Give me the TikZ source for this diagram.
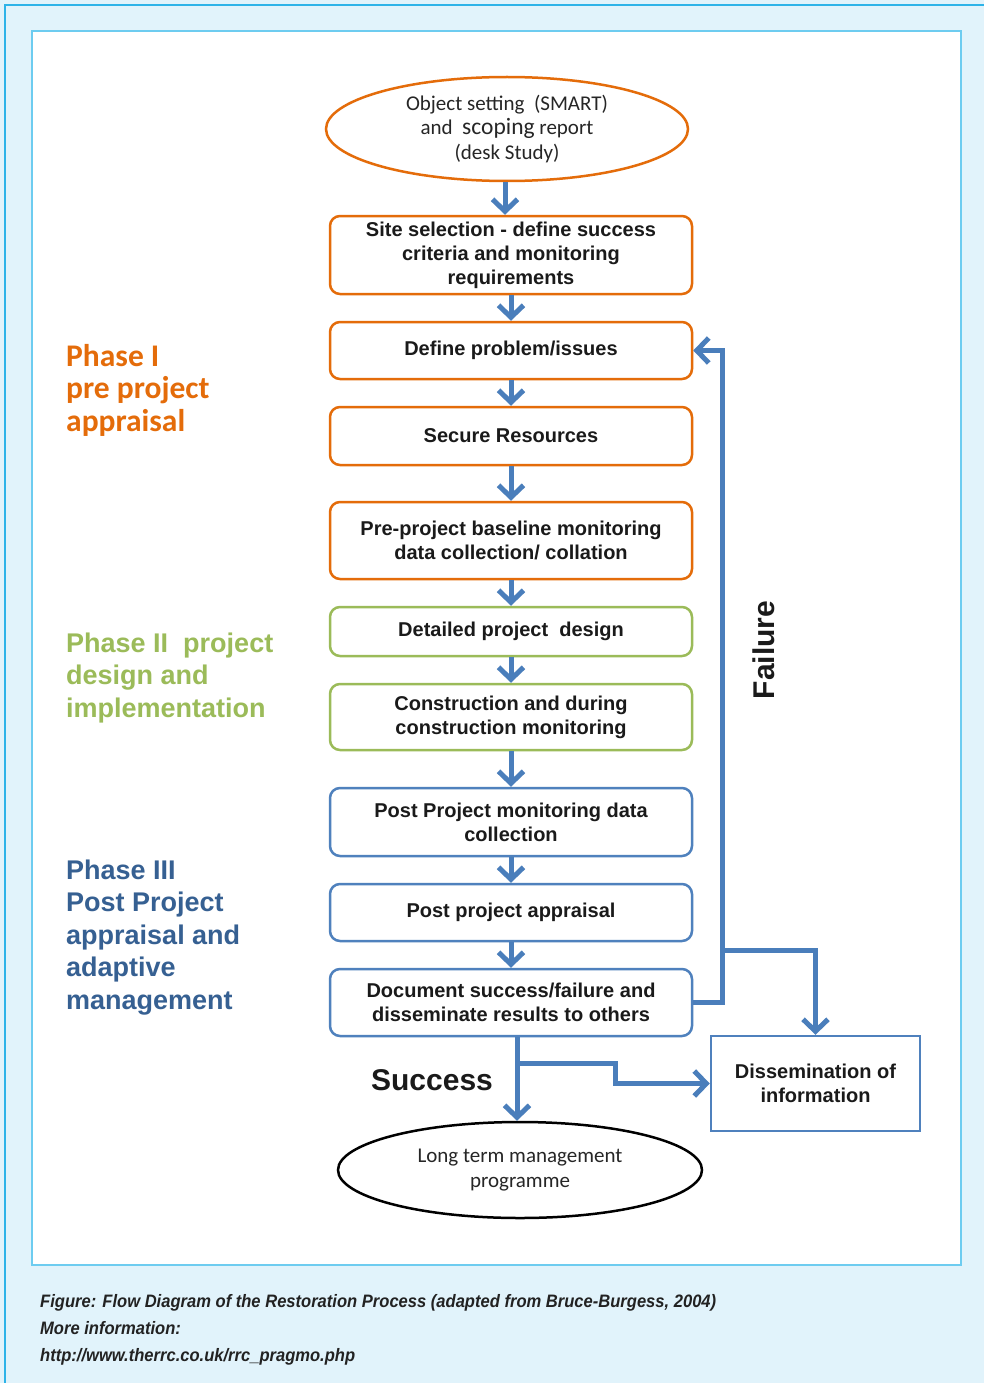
\documentclass[tikz,border=0pt]{standalone}
\usepackage{fontspec}
\setmainfont{Liberation Sans}
\newfontfamily\carlito{Carlito}
\usetikzlibrary{arrows.meta,shapes.geometric}
\definecolor{bgblue}{HTML}{E1F3FB}
\definecolor{edgecyan}{HTML}{2DB3E8}
\definecolor{inneredge}{HTML}{6DCCF0}
\definecolor{orng}{HTML}{E46C0A}
\definecolor{grn}{HTML}{9BBB59}
\definecolor{bluebox}{HTML}{4F81BD}
\definecolor{arrowblue}{HTML}{4A7EBB}
\definecolor{phthree}{HTML}{366092}
\definecolor{txt}{HTML}{1A1A1A}
\definecolor{elltxt}{HTML}{262626}
\definecolor{captxt}{HTML}{222222}
\tikzset{
  box/.style={rectangle, rounded corners=10pt, minimum width=362pt, line width=2.5pt,
    align=center, font=\fontsize{20}{24}\selectfont\bfseries, text=txt, inner sep=0pt},
  obox/.style={box, draw=orng},
  gbox/.style={box, draw=grn},
  bbox/.style={box, draw=bluebox},
  ell/.style={ellipse, inner sep=0pt, line width=2.5pt, align=center,
    font=\carlito\fontsize{21}{24.5}\selectfont, text=elltxt},
  flow/.style={draw=arrowblue, line width=5pt, -{Straight Barb[length=12pt,width=25pt]}},
  phase/.style={anchor=base west, align=left, inner sep=0pt},
  captext/.style={anchor=base west, inner sep=0pt, text=captxt,
    font=\fontsize{18}{20}\selectfont\bfseries\itshape}
}
\begin{document}
\begin{tikzpicture}[x=1pt,y=-1pt]
\useasboundingbox (0,0) rectangle (984,1383);
\fill[bgblue] (0,0) rectangle (984,1383);
\draw[edgecyan,line width=2pt] (5,1383) -- (5,5) -- (984,5);
\draw[inneredge,line width=1.5pt,fill=white] (32,31) rectangle (961,1265);

% nodes
\node[ell, draw=orng, minimum width=362pt, minimum height=104pt] (e1) at (507,129)
  {Object setting\ \ (SMART)\\and\ \ {\fontsize{23.5}{24.5}\selectfont scoping} report\\(desk Study)};
\node[obox, minimum height=78pt] (b1) at (511,255)
  {Site selection - define success\\criteria and monitoring\\requirements};
\node[obox, minimum height=57pt] (b2) at (511,350.5) {Define problem/issues};
\node[obox, minimum height=58pt] (b3) at (511,436) {Secure Resources};
\node[obox, minimum height=77pt] (b4) at (511,540.5)
  {Pre-project baseline monitoring\\data collection/ collation};
\node[gbox, minimum height=49pt] (b5) at (511,631.5) {Detailed project\ \ design};
\node[gbox, minimum height=66pt] (b6) at (511,717)
  {Construction and during\\construction monitoring};
\node[bbox, minimum height=68pt] (b7) at (511,822)
  {Post Project monitoring data\\collection};
\node[bbox, minimum height=57pt] (b8) at (511,912.5) {Post project appraisal};
\node[bbox, minimum height=67pt] (b9) at (511,1002.5)
  {Document success/failure and\\disseminate results to others};
\node[rectangle, draw=bluebox, line width=2.5pt, minimum width=209pt, minimum height=95pt,
  align=center, inner sep=0pt, font=\fontsize{20}{24.5}\selectfont\bfseries, text=txt]
  (diss) at (815.5,1083.5) {Dissemination of\\information};
\node[ell, draw=black, minimum width=364pt, minimum height=96pt] (lt) at (520,1170)
  {Long term management\\programme};

% labels
\node[font=\fontsize{30}{32}\selectfont\bfseries, text=txt] (succ) at (432,1080) {Success};
\node[font=\fontsize{30}{32}\selectfont\bfseries, text=txt, rotate=90] (fail) at (764,650) {Failure};
\node[phase, text=orng, font=\carlito\fontsize{31.5}{32.5}\selectfont\bfseries] (p1) at (66,431)
  {Phase I\\pre project\\appraisal};
\node[phase, text=grn, font=\fontsize{27}{32.5}\selectfont\bfseries] (p2) at (66,717)
  {Phase II\ \ project\\design and\\implementation};
\node[phase, text=phthree, font=\fontsize{27}{32.5}\selectfont\bfseries] (p3) at (66,1009)
  {Phase III\\Post Project\\appraisal and\\adaptive\\management};

% caption
\node[captext] (c1) at (40,1307) {\scalebox{0.92}[1]{Figure: Flow Diagram of the Restoration Process (adapted from Bruce-Burgess, 2004)}};
\node[captext] (c2) at (40,1334) {\scalebox{0.92}[1]{More information:}};
\node[captext] (c3) at (40,1361) {\scalebox{0.92}[1]{http://www.therrc.co.uk/rrc\_pragmo.php}};

% connectors
\draw[flow] ([xshift=-2pt]e1.south) -- ([xshift=-6pt]b1.north);
\draw[flow] (b1.south) -- (b2.north);
\draw[flow] (b2.south) -- (b3.north);
\draw[flow] (b3.south) -- (b4.north);
\draw[flow] (b4.south) -- (b5.north);
\draw[flow] (b5.south) -- (b6.north);
\draw[flow] (b6.south) -- (b7.north);
\draw[flow] (b7.south) -- (b8.north);
\draw[flow] (b8.south) -- (b9.north);
% failure loop
\coordinate (fx) at (722,1002.5);
\coordinate (fb) at (722,950);
\draw[flow] (b9.east) -- (fx) |- (b2.east);
\draw[flow] (fb) -| (diss.north);
% success
\draw[flow] ([xshift=6pt]b9.south) -- ([xshift=-3pt]lt.north);
\coordinate (s1) at (517,1063);
\coordinate (s2) at (615,1063);
\draw[flow] (s1) -- (s2) |- (diss.west);
\end{tikzpicture}
\end{document}
